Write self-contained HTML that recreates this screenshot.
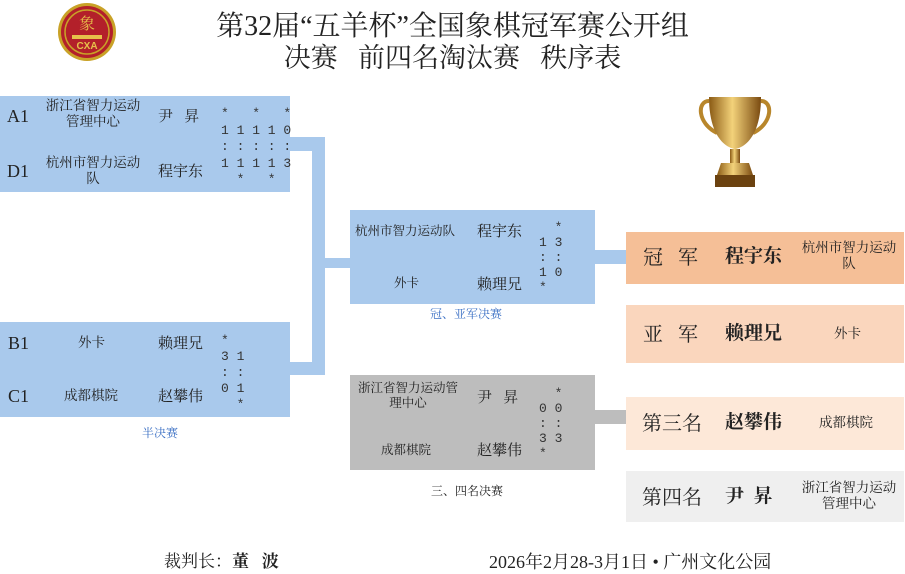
<!DOCTYPE html>
<html><head><meta charset="utf-8"><style>
body{margin:0;width:905px;height:572px;background:#fff;position:relative;overflow:hidden;font-family:"Liberation Serif","Noto Serif CJK SC",serif;color:#222}
.a{position:absolute}
.b{background:#a9c9ec}
.t{position:absolute;white-space:nowrap;text-align:center;line-height:1.2}
.sc{position:absolute;font-size:13px;line-height:15px;white-space:pre;font-family:"Liberation Mono",monospace;color:#333}
</style></head><body>
<svg class="a" style="left:52px;top:2px" width="70" height="60"><circle cx="35" cy="30" r="29" fill="#c9a227"/><circle cx="35" cy="30" r="26" fill="#b3202a"/><circle cx="35" cy="30" r="22" fill="none" stroke="#c9a227" stroke-width="1.5"/><text x="35" y="27" font-size="16" fill="#e6c14a" text-anchor="middle" font-family="Noto Serif CJK SC">象</text><rect x="20" y="33" width="30" height="4" fill="#e6c14a"/><text x="35" y="47" font-size="10" font-weight="bold" fill="#e6c14a" text-anchor="middle" font-family="Liberation Sans">CXA</text></svg>
<div class="t" style="left:0;width:905px;top:10px;font-size:28px">第32届“五羊杯”全国象棋冠军赛公开组</div>
<div class="t" style="left:0;width:905px;top:42px;font-size:27px">决赛&nbsp;&nbsp;&nbsp;前四名淘汰赛&nbsp;&nbsp;&nbsp;秩序表</div>

<div class="a b" style="left:0;top:96px;width:290px;height:96px"></div>
<div class="a b" style="left:290px;top:137px;width:35px;height:14px"></div>
<div class="a b" style="left:312px;top:137px;width:13px;height:238px"></div>
<div class="a b" style="left:0;top:322px;width:290px;height:95px"></div>
<div class="a b" style="left:290px;top:362px;width:35px;height:13px"></div>
<div class="a b" style="left:325px;top:258px;width:25px;height:10px"></div>
<div class="a b" style="left:350px;top:210px;width:245px;height:94px"></div>
<div class="a b" style="left:595px;top:250px;width:31px;height:14px"></div>
<div class="a" style="left:350px;top:375px;width:245px;height:95px;background:#bdbdbd"></div>
<div class="a" style="left:595px;top:410px;width:31px;height:14px;background:#bdbdbd"></div>
<div class="a" style="left:626px;top:232px;width:278px;height:52px;background:#f5bf97"></div>
<div class="a" style="left:626px;top:305px;width:278px;height:58px;background:#fad6bd"></div>
<div class="a" style="left:626px;top:397px;width:278px;height:53px;background:#fde8d8"></div>
<div class="a" style="left:626px;top:471px;width:278px;height:51px;background:#efefef"></div>

<div class="t" style="left:7px;top:106px;font-size:18px">A1</div>
<div class="t" style="left:7px;top:161px;font-size:18px">D1</div>
<div class="t" style="left:37px;top:98px;width:112px;font-size:13.5px">浙江省智力运动<br>管理中心</div>
<div class="t" style="left:37px;top:155px;width:112px;font-size:13.5px">杭州市智力运动<br>队</div>
<div class="t" style="left:158px;top:108px;font-size:15px">尹&nbsp;&nbsp;&nbsp;昇</div>
<div class="t" style="left:158px;top:163px;font-size:15px">程宇东</div>
<div class="sc" style="left:221px;top:106px;line-height:16.5px">*   *   *
1 1 1 1 0
: : : : :
1 1 1 1 3
  *   *</div>

<div class="t" style="left:8px;top:333px;font-size:18px">B1</div>
<div class="t" style="left:8px;top:386px;font-size:18px">C1</div>
<div class="t" style="left:78px;top:335px;font-size:13.5px">外卡</div>
<div class="t" style="left:64px;top:388px;font-size:13.5px">成都棋院</div>
<div class="t" style="left:158px;top:335px;font-size:15px">赖理兄</div>
<div class="t" style="left:158px;top:388px;font-size:15px">赵攀伟</div>
<div class="sc" style="left:221px;top:333px;line-height:16px">*
3 1
: :
0 1
  *</div>
<div class="t" style="left:142px;top:426px;font-size:12px;color:#3a6fc4">半决赛</div>

<div class="t" style="left:355px;top:224px;font-size:12.5px">杭州市智力运动队</div>
<div class="t" style="left:394px;top:276px;font-size:12.5px">外卡</div>
<div class="t" style="left:477px;top:223px;font-size:15px">程宇东</div>
<div class="t" style="left:477px;top:276px;font-size:15px">赖理兄</div>
<div class="sc" style="left:539px;top:220px">  *
1 3
: :
1 0
*</div>
<div class="t" style="left:430px;top:307px;font-size:12px;color:#3a6fc4">冠、亚军决赛</div>

<div class="t" style="left:352px;top:381px;width:112px;font-size:12.5px">浙江省智力运动管<br>理中心</div>
<div class="t" style="left:381px;top:443px;font-size:12.5px">成都棋院</div>
<div class="t" style="left:477px;top:389px;font-size:15px">尹&nbsp;&nbsp;&nbsp;昇</div>
<div class="t" style="left:477px;top:442px;font-size:15px">赵攀伟</div>
<div class="sc" style="left:539px;top:386px">  *
0 0
: :
3 3
*</div>
<div class="t" style="left:431px;top:484px;font-size:12px">三、四名决赛</div>

<div class="t" style="left:643px;top:246px;font-size:20px">冠&nbsp;&nbsp;&nbsp;军</div>
<div class="t" style="left:725px;top:246px;font-size:19px;font-weight:bold">程宇东</div>
<div class="t" style="left:796px;top:240px;width:106px;font-size:13.5px">杭州市智力运动<br>队</div>
<div class="t" style="left:643px;top:323px;font-size:20px">亚&nbsp;&nbsp;&nbsp;军</div>
<div class="t" style="left:725px;top:323px;font-size:19px;font-weight:bold">赖理兄</div>
<div class="t" style="left:834px;top:326px;font-size:13.5px">外卡</div>
<div class="t" style="left:642px;top:412px;font-size:20px">第三名</div>
<div class="t" style="left:725px;top:412px;font-size:19px;font-weight:bold">赵攀伟</div>
<div class="t" style="left:819px;top:415px;font-size:13.5px">成都棋院</div>
<div class="t" style="left:642px;top:486px;font-size:20px">第四名</div>
<div class="t" style="left:725px;top:486px;font-size:19px;font-weight:bold">尹&nbsp;&nbsp;昇</div>
<div class="t" style="left:796px;top:480px;width:106px;font-size:13.5px">浙江省智力运动<br>管理中心</div>

<svg class="a" style="left:695px;top:93px" width="80" height="98"><defs><linearGradient id="g" x1="0" x2="1"><stop offset="0" stop-color="#8a5a14"/><stop offset=".45" stop-color="#f3d27a"/><stop offset="1" stop-color="#7a4a10"/></linearGradient></defs>
<path d="M14 8 C2 8 2 30 22 40" fill="none" stroke="#b8862b" stroke-width="4"/><path d="M66 8 C78 8 78 30 58 40" fill="none" stroke="#b8862b" stroke-width="4"/>
<path d="M14 4 H66 C66 40 52 54 40 56 C28 54 14 40 14 4Z" fill="url(#g)"/><rect x="35" y="56" width="10" height="14" fill="url(#g)"/><path d="M26 70 H54 L58 82 H22Z" fill="url(#g)"/><rect x="20" y="82" width="40" height="12" fill="#6b4210"/></svg>

<div class="t" style="left:164px;top:552px;font-size:17px">裁判长：<b>董&nbsp;&nbsp;&nbsp;波</b></div>
<div class="t" style="left:489px;top:552px;font-size:18px">2026年2月28-3月1日 • 广州文化公园</div>
</body></html>
